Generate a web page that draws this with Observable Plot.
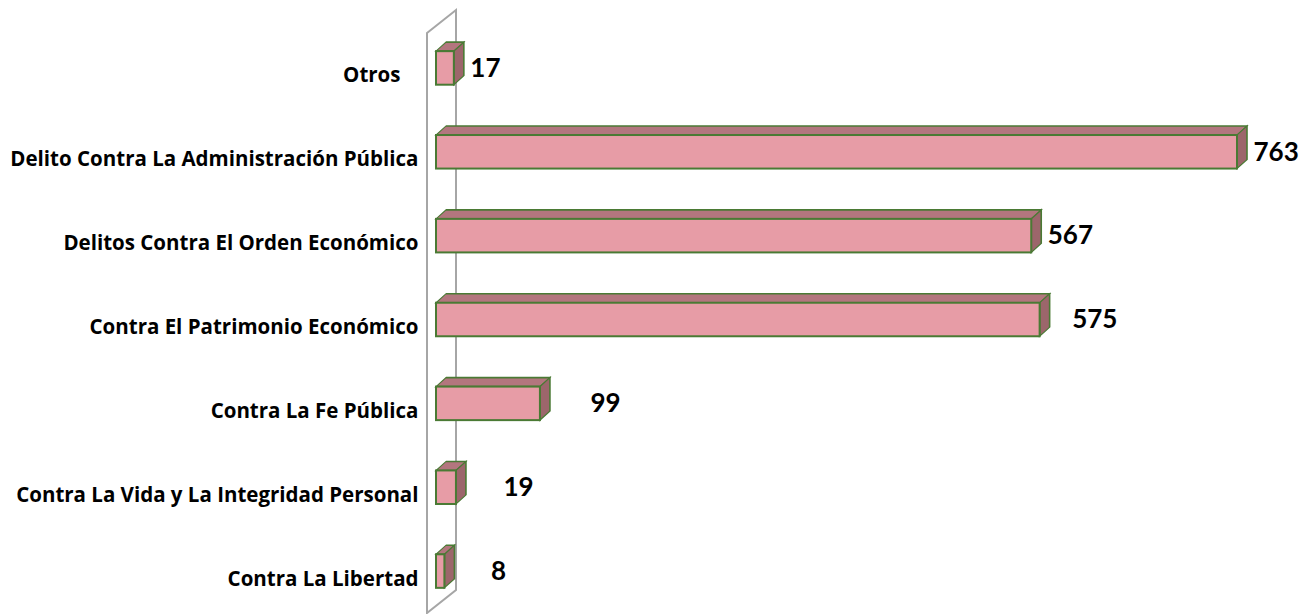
<!DOCTYPE html>
<html><head><meta charset="utf-8">
<script src="https://cdn.jsdelivr.net/npm/d3@7"></script>
<script src="https://cdn.jsdelivr.net/npm/@observablehq/plot@0.6"></script>
<style>
body{margin:0;background:#fff}
</style></head>
<body><div id="chart"></div>
<script>
const categories = [
  "Otros",
  "Delito Contra La Administración Pública",
  "Delitos Contra El Orden Económico",
  "Contra El Patrimonio Económico",
  "Contra La Fe Pública",
  "Contra La Vida y La Integridad Personal",
  "Contra La Libertad"
];
const values = [17, 763, 567, 575, 99, 19, 8];
const labelDx = [16, 16, 16, 32, 50, 47, 46];

const data = categories.map((c, i) => ({category: c, value: values[i]}));

const W = 1311, H = 614, mTop = 26, mBottom = 1;
const padIn = 0.6, padOut = 0.3;
const step = (H - mTop - mBottom) / (categories.length - padIn + 2 * padOut);
const bw = step * (1 - padIn);
const depthY = 9;

const frontFill = "#E79CA6", topFill = "#B3767E", sideFill = "#9C666B", edge = "#4A7A34";

const chart = Plot.plot({
  width: W, height: H,
  marginLeft: 436, marginRight: 74, marginTop: mTop, marginBottom: mBottom,
  style: {fontFamily: "'Open Sans', Lato, sans-serif", fontWeight: "bold", color: "#000", background: "#fff"},
  x: {domain: [0, 763], axis: null},
  y: {domain: categories, type: "band", paddingInner: padIn, paddingOuter: padOut, round: false,
      label: null, tickSize: 0, tickPadding: 18},
  marks: [
    Plot.barX(data, {x: "value", y: "category", insetBottom: bw - depthY, dy: -depthY,
      fill: topFill, stroke: edge, strokeWidth: 1.6}),
    Plot.barX(data, {x1: "value", x2: "value", y: "category", insetRight: -10,
      fill: sideFill, stroke: edge, strokeWidth: 1.6}),
    Plot.barX(data, {x: "value", y: "category", fill: frontFill, stroke: edge, strokeWidth: 2}),
    ...data.map((d, i) => Plot.text([d], {x: "value", y: "category", text: d => String(d.value),
      textAnchor: "start", dx: labelDx[i], fontSize: 26, fontFamily: "Lato, sans-serif", fill: "#000"}))
  ]
});

const svg = d3.select(chart);
// skew the depth faces into parallelograms
const barGroups = svg.selectAll("g[aria-label='bar']").nodes();
d3.select(barGroups[0]).selectAll("rect")
  .style("transform-box", "fill-box").style("transform-origin", "0 100%").style("transform", "skewX(-48deg)");
d3.select(barGroups[1]).selectAll("rect")
  .style("transform-box", "fill-box").style("transform-origin", "0 0").style("transform", "skewY(-42deg)");

// Back wall (drawn behind marks)
const x0 = chart.scale("x").apply(0);
svg.insert("path", ":first-child")
  .attr("d", `M${x0 - 9},33 L${x0 + 20},10 L${x0 + 20},590 L${x0 - 9},613 Z`)
  .attr("fill", "none").attr("stroke", "#A6A6A6").attr("stroke-width", 2);
svg.selectAll("g[aria-label='y-axis tick label'] text")
  .attr("font-size", 20.5).attr("dy", "0.36em")
  .each(function() { if (this.textContent === "Otros") d3.select(this).attr("dx", -18); });

document.getElementById("chart").appendChild(chart);
</script>
</body></html>
